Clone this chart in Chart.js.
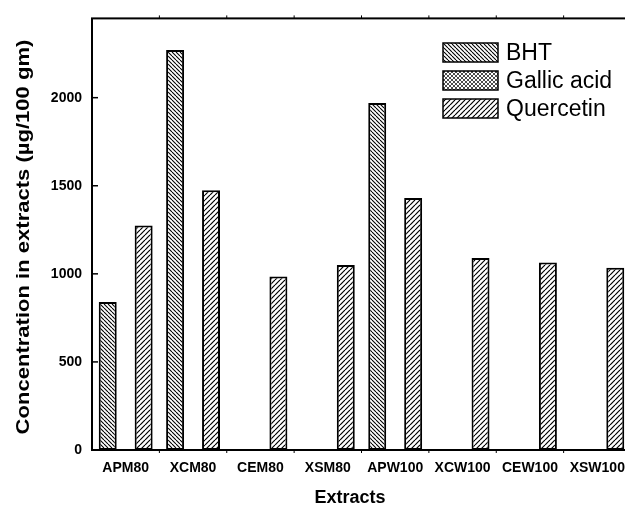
<!DOCTYPE html>
<html>
<head>
<meta charset="utf-8">
<script src="https://cdn.jsdelivr.net/npm/chart.js@4.4.1/dist/chart.umd.min.js"></script>
<style>
  html, body { margin: 0; padding: 0; background: #fff; overflow: hidden; }
  #wrap { width: 640px; height: 509px; }
</style>
</head>
<body>
<div id="wrap"><canvas id="extractChart" width="640" height="509"></canvas></div>
<script>
var categories = ["APM80", "XCM80", "CEM80", "XSM80", "APW100", "XCW100", "CEW100", "XSW100"];
var bhtValues = [840, 2270, null, null, 1970, null, null, null];
var gallicValues = [null, null, null, null, null, null, null, null];
var quercetinValues = [1275, 1475, 985, 1050, 1430, 1090, 1065, 1035];
var yTicks = [0, 500, 1000, 1500, 2000];
var yTitle = "Concentration in extracts (\u00b5g/100 gm)";
var xTitle = "Extracts";

var FONT = "'Liberation Sans', Arial, sans-serif";

// black-on-white hatch fills: "back" = \\\, "fwd" = ///, "cross" = fine crosshatch
function hatch(kind, size, lw) {
  var cv = document.createElement("canvas");
  cv.width = size;
  cv.height = size;
  var g = cv.getContext("2d");
  g.fillStyle = "#fff";
  g.fillRect(0, 0, size, size);
  g.strokeStyle = "#000";
  g.lineWidth = lw;
  for (var o = -size; o <= size; o += size) {
    if (kind === "back" || kind === "cross") {
      g.beginPath(); g.moveTo(o, 0); g.lineTo(o + size, size); g.stroke();
    }
    if (kind === "fwd" || kind === "cross") {
      g.beginPath(); g.moveTo(o + size, 0); g.lineTo(o, size); g.stroke();
    }
  }
  return g.createPattern(cv, "repeat");
}

var framePlugin = {
  id: "frame",
  afterDraw: function (chart) {
    var c = chart.ctx;
    var a = chart.chartArea;
    var xs = chart.scales.x;
    var ys = chart.scales.y;
    c.save();
    c.strokeStyle = "#000";
    c.lineWidth = 2;
    c.strokeRect(a.left, a.top, a.right - a.left, a.bottom - a.top);

    // inward ticks on the value axis
    c.lineWidth = 1.5;
    yTicks.forEach(function (v) {
      var py = ys.getPixelForValue(v);
      c.beginPath(); c.moveTo(a.left, py); c.lineTo(a.left + 6, py); c.stroke();
    });
    // small marks between categories, top and bottom
    c.lineWidth = 1;
    for (var i = 1; i < categories.length; i++) {
      var px = (xs.getPixelForValue(i - 1) + xs.getPixelForValue(i)) / 2;
      c.beginPath(); c.moveTo(px, a.top); c.lineTo(px, a.top - 3); c.stroke();
      c.beginPath(); c.moveTo(px, a.bottom); c.lineTo(px, a.bottom + 3); c.stroke();
    }

    // axis titles
    c.fillStyle = "#000";
    c.font = "bold 18px " + FONT;
    c.textAlign = "center";
    c.textBaseline = "alphabetic";
    c.fillText(xTitle, 350, 503);

    c.save();
    c.translate(29, 237);
    c.rotate(-Math.PI / 2);
    c.scale(1.16, 1);
    c.font = "bold 19px " + FONT;
    c.fillText(yTitle, 0, 0);
    c.restore();

    // legend
    c.font = "23px " + FONT;
    c.textAlign = "left";
    chart.data.datasets.forEach(function (ds, k) {
      var top = 43 + k * 28;
      c.fillStyle = ds.backgroundColor;
      c.fillRect(443, top, 55, 19);
      c.lineWidth = 1.5;
      c.strokeRect(443, top, 55, 19);
      c.fillStyle = "#000";
      c.fillText(ds.label, 506, top + 17);
    });
    c.restore();
  }
};

var ctx = document.getElementById("extractChart").getContext("2d");
var myChart = new Chart(ctx, {
  type: "bar",
  data: {
    labels: categories,
    datasets: [
      {
        label: "BHT",
        data: bhtValues,
        backgroundColor: hatch("back", 4, 1.1),
        borderColor: "#000",
        borderWidth: 2,
        borderSkipped: false,
      },
      {
        label: "Gallic acid",
        data: gallicValues,
        backgroundColor: hatch("cross", 4, 0.7),
        borderColor: "#000",
        borderWidth: 2,
        borderSkipped: false,
      },
      {
        label: "Quercetin",
        data: quercetinValues,
        backgroundColor: hatch("fwd", 5, 1.2),
        borderColor: "#000",
        borderWidth: 2,
        borderSkipped: false,
      },
    ],
  },
  options: {
    responsive: false,
    animation: false,
    categoryPercentage: 0.8,
    barPercentage: 1.0,
    layout: { padding: { left: 0, top: 14, right: 9, bottom: 0 } },
    plugins: {
      legend: { display: false },
      tooltip: { enabled: false },
    },
    scales: {
      x: {
        grid: { display: false, drawTicks: false },
        border: { display: false },
        ticks: {
          color: "#000",
          font: { family: FONT, size: 14, weight: "bold" },
          padding: 10,
          maxRotation: 0,
          autoSkip: false,
        },
        afterFit: function (scale) { scale.height = 59; },
      },
      y: {
        min: 0,
        max: 2450,
        grid: { display: false, drawTicks: false },
        border: { display: false },
        ticks: {
          color: "#000",
          font: { family: FONT, size: 14, weight: "bold" },
          padding: 10,
          callback: function (value) { return String(value); },
        },
        afterBuildTicks: function (scale) {
          scale.ticks = yTicks.map(function (v) { return { value: v }; });
        },
        afterFit: function (scale) { scale.width = 92; },
      },
    },
  },
  plugins: [framePlugin],
});
</script>
</body>
</html>
